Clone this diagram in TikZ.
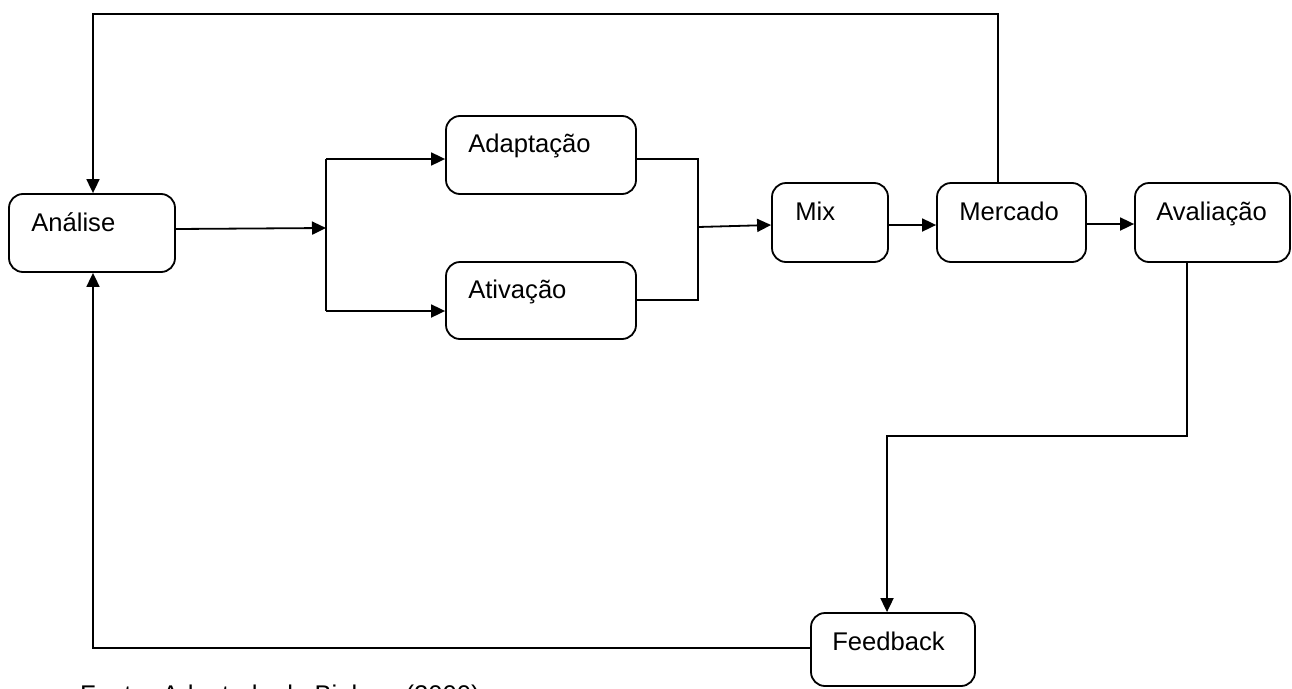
\documentclass[tikz,border=0pt]{standalone}
\usepackage{fontspec}
\setmainfont{Liberation Sans}
\usetikzlibrary{arrows.meta,calc}
\begin{document}
\begin{tikzpicture}[x=1pt,y=-1pt,
  box/.style={draw=black, line width=1.8pt, rounded corners=14pt, inner sep=0pt, fill=white},
  lbl/.style={anchor=base west, inner sep=0pt, font=\fontsize{25.6}{30}\selectfont},
  conn/.style={draw=black, line width=1.8pt},
  arr/.style={conn, -{Triangle[length=14pt, width=13pt]}}]
\useasboundingbox (0,0) rectangle (1292,688);
\fill[white] (0,0) rectangle (1292,688);
% boxes
\node[box, minimum width=166pt, minimum height=78pt] (ana) at (92,233) {};
\node[box, minimum width=190pt, minimum height=78pt] (adap) at (541,155) {};
\node[box, minimum width=190pt, minimum height=77pt] (ativ) at (541,300.5) {};
\node[box, minimum width=116pt, minimum height=79pt] (mix) at (830,222.5) {};
\node[box, minimum width=149pt, minimum height=79pt] (merc) at (1011.5,222.5) {};
\node[box, minimum width=155pt, minimum height=79pt] (aval) at (1212.5,222.5) {};
\node[box, minimum width=164pt, minimum height=73pt] (feed) at (893,649.5) {};
% labels
\node[lbl] (tana) at ($(ana.north west)+(23,38)$) {Análise};
\node[lbl] (tadap) at ($(adap.north west)+(23,37)$) {Adaptação};
\node[lbl] (tativ) at ($(ativ.north west)+(23,37)$) {Ativação};
\node[lbl] (tmix) at ($(mix.north west)+(24,38)$) {Mix};
\node[lbl] (tmerc) at ($(merc.north west)+(23,38)$) {Mercado};
\node[lbl] (taval) at ($(aval.north west)+(22,38)$) {Avaliação};
\node[lbl] (tfeed) at ($(feed.north west)+(22,38)$) {Feedback};
\node[lbl] (fonte) at (80,703.3) {Fonte: Adaptado de Bialoso (2000)};
% junction coordinates
\coordinate (jin) at (326,228);
\coordinate (jt) at (326,159);
\coordinate (jb) at (326,311);
\coordinate (ot) at (698,159);
\coordinate (ob) at (698,300);
\coordinate (om) at (698,227);
\coordinate (topR) at (998,14);
\coordinate (topL) at (93,14);
\coordinate (midR) at (1187,436);
\coordinate (midL) at (887,436);
\coordinate (botL) at (93,648);
% connectors
\draw[arr] ($(ana.east)+(0,-4)$) -- (jin);
\draw[conn] (jt) -- (jb);
\draw[arr] (jt) -- (jt -| adap.west);
\draw[arr] (jb) -- (jb -| ativ.west);
\draw[conn] (ot -| adap.east) -- (ot) -- (ob) -- (ob -| ativ.east);
\draw[arr] (om) -- ($(mix.west)+(0,2.5)$);
\draw[arr] ($(mix.east)+(0,2.5)$) -- ($(merc.west)+(0,2.5)$);
\draw[arr] ($(merc.east)+(0,1.5)$) -- ($(aval.west)+(0,1.5)$);
\draw[arr] (topR |- merc.north) -- (topR) -- (topL) -- (topL |- ana.north);
\draw[arr] (midR |- aval.south) -- (midR) -- (midL) -- (midL |- feed.north);
\draw[arr] (botL -| feed.west) -- (botL) -- (botL |- ana.south);
\end{tikzpicture}
\end{document}
